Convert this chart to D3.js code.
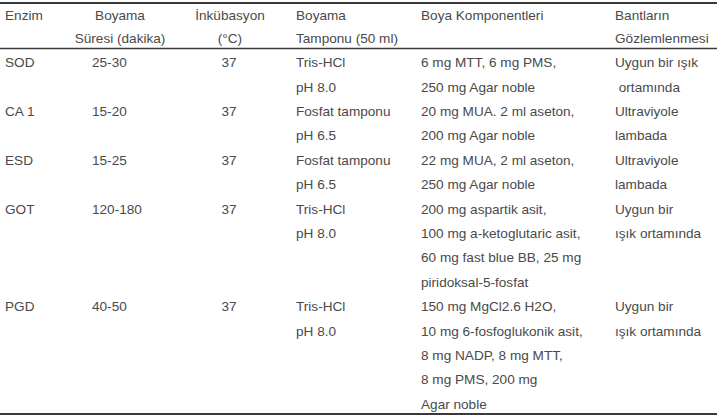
<!DOCTYPE html>
<html>
<head>
<meta charset="utf-8">
<script src="https://cdn.jsdelivr.net/npm/d3@7"></script>
<style>
  html, body { margin: 0; padding: 0; background: #fff; }
  svg text { font-family: "Liberation Sans", Arial, sans-serif; font-size: 13.6px; fill: #4a4a4a; white-space: pre; }
</style>
</head>
<body>
<svg id="chart" width="721" height="418"></svg>
<script>
// ---- Data ----
const columns = ["enzim", "sure", "inkubasyon", "tampon", "komponent", "bant"];
const headers = [
  ["Enzim", ""],
  ["Boyama", "Süresi (dakika)"],
  ["İnkübasyon", "(°C)"],
  ["Boyama", "Tamponu (50 ml)"],
  ["Boya Komponentleri", ""],
  ["Bantların", "Gözlemlenmesi"]
];
const enzymes = ["SOD", "CA 1", "ESD", "GOT", "PGD"];
const durations = ["25-30", "15-20", "15-25", "120-180", "40-50"];
const temperatures = ["37", "37", "37", "37", "37"];
const buffers = [
  ["Tris-HCl", "pH 8.0"],
  ["Fosfat tamponu", "pH 6.5"],
  ["Fosfat tamponu", "pH 6.5"],
  ["Tris-HCl", "pH 8.0"],
  ["Tris-HCl", "pH 8.0"]
];
const components = [
  ["6 mg MTT, 6 mg PMS,", "250 mg Agar noble"],
  ["20 mg MUA. 2 ml aseton,", "200 mg Agar noble"],
  ["22 mg MUA, 2 ml aseton,", "250 mg Agar noble"],
  ["200 mg aspartik asit,", "100 mg a-ketoglutaric asit,", "60 mg fast blue BB, 25 mg", "piridoksal-5-fosfat"],
  ["150 mg MgCl2.6 H2O,", "10 mg 6-fosfoglukonik asit,", "8 mg NADP, 8 mg MTT,", "8 mg PMS, 200 mg", "Agar noble"]
];
const observations = [
  ["Uygun bir ışık", " ortamında"],
  ["Ultraviyole", "lambada"],
  ["Ultraviyole", "lambada"],
  ["Uygun bir", "ışık ortamında"],
  ["Uygun bir", "ışık ortamında"]
];

// ---- Build rows ----
const rows = enzymes.map((e, i) => ({
  cells: [[e], [durations[i]], [temperatures[i]], buffers[i], components[i], observations[i]]
}));
let lineIdx = 0;
rows.forEach(r => {
  r.start = lineIdx;
  r.n = d3.max(r.cells, c => c.length);
  lineIdx += r.n;
});
const totalLines = lineIdx;

// ---- Layout ----
const svg = d3.select("#chart");
const colX = d3.scaleOrdinal().domain(columns).range([5, 92, 229, 296, 421, 615]);
const colHeaderX = d3.scaleOrdinal().domain(columns).range([5, 120, 230, 296, 421, 615]);
const colAnchor = d3.scaleOrdinal().domain(columns).range(["start", "start", "middle", "start", "start", "start"]);
const colHeaderAnchor = d3.scaleOrdinal().domain(columns).range(["start", "middle", "middle", "start", "start", "start"]);

const yHead = d3.scaleLinear().domain([0, 1]).range([15.5, 38.5]);
const yBody = d3.scaleLinear().domain([0, totalLines - 1]).range([62.5, 404]);

// rules
const rules = [
  { y: 3, w: 2 },
  { y: 48.5, w: 1.6 },
  { y: 414, w: 2 }
];
svg.selectAll("line.rule").data(rules).join("line")
  .attr("class", "rule")
  .attr("x1", 0).attr("x2", 717)
  .attr("y1", d => d.y).attr("y2", d => d.y)
  .attr("stroke", "#3a3a3a").attr("stroke-width", d => d.w);

// header
columns.forEach((c, ci) => {
  svg.append("g").selectAll("text").data(headers[ci].filter(t => t !== "")).join("text")
    .attr("x", colHeaderX(c))
    .attr("y", (d, i) => yHead(i))
    .attr("dy", "0.35em")
    .attr("text-anchor", colHeaderAnchor(c))
    .text(d => d);
});

// body
const rowG = svg.selectAll("g.row").data(rows).join("g").attr("class", "row");
rowG.each(function(r) {
  const g = d3.select(this);
  columns.forEach((c, ci) => {
    g.append("g").selectAll("text").data(r.cells[ci]).join("text")
      .attr("x", colX(c))
      .attr("y", (d, i) => yBody(r.start + i))
      .attr("dy", "0.35em")
      .attr("text-anchor", colAnchor(c))
      .text(d => d);
  });
});
</script>
</body>
</html>
